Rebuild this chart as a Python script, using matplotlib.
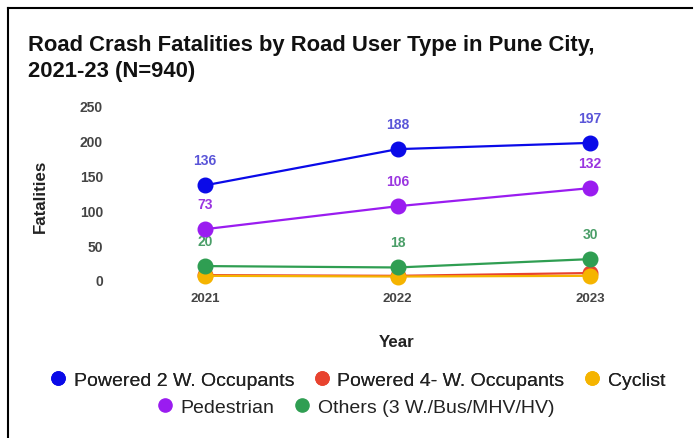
import matplotlib
matplotlib.use("Agg")
import matplotlib.pyplot as plt
from matplotlib.lines import Line2D

plt.rcParams['font.family'] = ['Liberation Sans', 'DejaVu Sans']

years = [2021, 2022, 2023]
series_names = ["Powered 2 W. Occupants", "Powered 4- W. Occupants", "Cyclist",
                "Pedestrian", "Others (3 W./Bus/MHV/HV)"]
two_wheeler = [136, 188, 197]
four_wheeler = [7, 6, 10]
cyclist = [6, 5, 6]
pedestrian = [73, 106, 132]
others = [20, 18, 30]
yticks = [0, 50, 100, 150, 200, 250]

values = [two_wheeler, four_wheeler, cyclist, pedestrian, others]
colors = ["#0a0ae8", "#e8432f", "#f5b400", "#9a1cf0", "#2f9e52"]
label_colors = ["#5a55d8", None, None, "#9a35e0", "#4a9e68"]
show_labels = [True, False, False, True, True]
zorders = [5, 2, 3, 4, 4]

W, H = 694, 439
fig = plt.figure(figsize=(W / 100, H / 100), dpi=100)

# axes placement in pixels
L, R = 115, 680
T, B = 107, 281
ax = fig.add_axes([L / W, 1 - B / H, (R - L) / W, (B - T) / H])
x0, x2 = 205, 590
scale = (x2 - x0) / 2
ax.set_xlim(2021 - (x0 - L) / scale, 2023 + (R - x2) / scale)
ax.set_ylim(0, 250)

handles = []
for name, vals, c, lc, sl, z in zip(series_names, values, colors, label_colors, show_labels, zorders):
    h, = ax.plot(years, vals, color=c, lw=1.6, marker='o', markersize=10.5,
                 clip_on=False, zorder=z, label=name)
    handles.append(h)
    if sl:
        for x, v in zip(years, vals):
            ax.annotate(str(v), (x, v), xytext=(0, 18), textcoords='offset points',
                        ha='center', va='center', color=lc, fontsize=10, fontweight='bold')

for s in ax.spines.values():
    s.set_visible(False)
ax.set_xticks(years)
ax.set_xticklabels([str(y) for y in years])
ax.set_yticks(yticks)
ax.tick_params(axis='both', length=0, labelcolor='#444444')
ax.tick_params(axis='y', pad=8.7, labelsize=10)
ax.tick_params(axis='x', pad=8.5, labelsize=9.5)
for t in ax.get_yticklabels() + ax.get_xticklabels():
    t.set_fontweight('bold')

fig.text(40 / W, 1 - 196 / H, "Fatalities", rotation=90, ha='center', va='center',
         fontsize=12.2, fontweight='bold', color='#222222')
fig.text(397 / W, 1 - 343 / H, "Year", ha='center', va='center',
         fontsize=12.2, fontweight='bold', color='#222222')

fig.text(28 / W, 1 - 45 / H, "Road Crash Fatalities by Road User Type in Pune City,",
         ha='left', va='center', fontsize=15.8, fontweight='bold', color='#111111')
fig.text(28 / W, 1 - 72 / H, "2021-23 (N=940)",
         ha='left', va='center', fontsize=15.8, fontweight='bold', color='#111111')

# legend rows
def mk(h):
    return Line2D([], [], color=h.get_color(), marker='o', linestyle='None', markersize=9.5)

leg_kw = dict(loc='center', frameon=False, fontsize=14, handletextpad=0.42,
              columnspacing=1.05, handlelength=0.75, borderpad=0, borderaxespad=0)
leg1 = fig.legend([mk(h) for h in handles[:3]], series_names[:3],
                  bbox_to_anchor=(358 / W, 1 - 381 / H), ncol=3, **leg_kw)
leg2 = fig.legend([mk(h) for h in handles[3:]], series_names[3:],
                  bbox_to_anchor=(356 / W, 1 - 408 / H), ncol=2, **leg_kw)
fig.add_artist(leg1)
for leg in (leg1, leg2):
    for t in leg.get_texts():
        t.set_color('#222222')

# border (left and top)
fig.add_artist(Line2D([8 / W, 8 / W], [0, 1 - 9 / H], color='black', lw=1.5, transform=fig.transFigure))
fig.add_artist(Line2D([8 / W, 692 / W], [1 - 9 / H, 1 - 9 / H], color='black', lw=1.5, transform=fig.transFigure))

fig.savefig("out.png", dpi=100)
